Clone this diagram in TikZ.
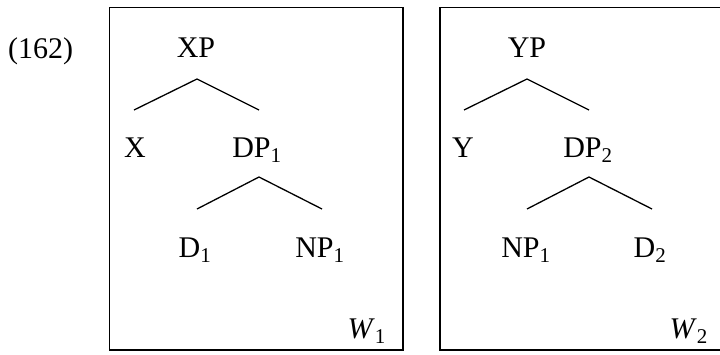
\documentclass[tikz,border=0pt]{standalone}
\usepackage{fontspec}
\setmainfont{Liberation Serif}
\begin{document}
\begin{tikzpicture}[x=1pt,y=-1pt,
  lbl/.style={anchor=base,inner sep=0pt,font=\fontsize{30}{34}\selectfont},
  branch/.style={line width=1.3pt},
  frame/.style={line width=1.6pt}]
\useasboundingbox (0,0) rectangle (720,354);
\draw[frame] (109.5,7.5) rectangle (403,350);
\draw[frame] (440,7.5) rectangle (724,350);
\node[lbl,anchor=base west] (ex) at (8,58) {(162)};
% left tree
\node[lbl] (xp) at (196,57) {XP};
\node[lbl] (x) at (135,157) {X};
\node[lbl] (dpa) at (257,157) {DP\textsubscript{1}};
\node[lbl] (da) at (195,257) {D\textsubscript{1}};
\node[lbl] (npa) at (320,257) {NP\textsubscript{1}};
\node[lbl,anchor=base east] (wa) at (386,338) {\textit{W}\textsubscript{1}};
% right tree
\node[lbl] (yp) at (527,57) {YP};
\node[lbl] (y) at (463,157) {Y};
\node[lbl] (dpb) at (588,157) {DP\textsubscript{2}};
\node[lbl] (npb) at (526,257) {NP\textsubscript{1}};
\node[lbl] (db) at (650,257) {D\textsubscript{2}};
\node[lbl,anchor=base east] (wb) at (708,338) {\textit{W}\textsubscript{2}};
% branches
\draw[branch] ([xshift=-1pt,yshift=47pt]x.base) -- ([xshift=1pt,yshift=-22pt]xp.base) -- ([xshift=2pt,yshift=47pt]dpa.base);
\draw[branch] ([xshift=2pt,yshift=48pt]da.base) -- ([xshift=2pt,yshift=-20pt]dpa.base) -- ([xshift=2pt,yshift=48pt]npa.base);
\draw[branch] ([xshift=1pt,yshift=47pt]y.base) -- ([yshift=-22pt]yp.base) -- ([xshift=1pt,yshift=47pt]dpb.base);
\draw[branch] ([xshift=1pt,yshift=48pt]npb.base) -- ([xshift=1pt,yshift=-20pt]dpb.base) -- ([xshift=2pt,yshift=48pt]db.base);
\end{tikzpicture}
\end{document}
